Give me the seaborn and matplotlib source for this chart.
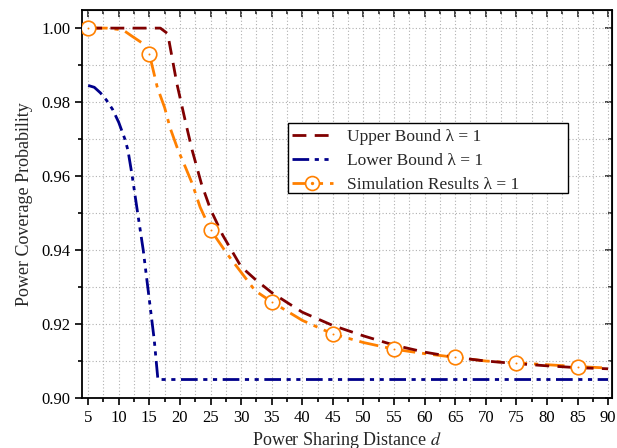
import matplotlib
matplotlib.use("Agg")
import matplotlib.pyplot as plt
from matplotlib.lines import Line2D
from matplotlib.patches import Rectangle
from matplotlib.ticker import MultipleLocator, FormatStrFormatter
import seaborn as sns

sns.set_style("ticks")
plt.rcParams['font.family'] = ['Liberation Serif', 'DejaVu Serif']
plt.rcParams['mathtext.fontset'] = 'stix'

# upper bound
upper_d = [5, 10, 15, 16.8, 18, 19.5, 21, 22, 23.5, 25, 27, 30, 32.5, 35, 40, 45,
           50, 55, 60, 65, 70, 75, 80, 85, 90]
upper_p = [1.0, 1.0, 1.0, 1.0, 0.9985, 0.985, 0.974, 0.967, 0.958, 0.951, 0.944,
           0.9355, 0.9318, 0.9285, 0.9232, 0.9196, 0.9168, 0.9143, 0.9124, 0.911,
           0.9100, 0.9093, 0.9087, 0.9082, 0.9079]

# lower bound
lower_d = [5, 6, 7, 8, 9, 10, 11, 11.5, 12.2, 13, 14, 15, 15.8, 16.4, 90]
lower_p = [0.9845, 0.984, 0.9825, 0.9805, 0.978, 0.9745, 0.970, 0.967, 0.960,
           0.951, 0.940, 0.9265, 0.9157, 0.905, 0.905]

# simulation curve
sim_d = [5, 8, 10.7, 12, 13.8, 15, 16.3, 17.5, 18.4, 19.7, 21, 22, 23.3, 25, 27.7,
         30, 32.3, 35, 40, 45, 50, 55, 60, 65, 70, 75, 80, 85, 90]
sim_p = [1.0, 1.0, 0.9995, 0.998, 0.996, 0.993, 0.984, 0.9785, 0.973, 0.967, 0.962,
         0.958, 0.9516, 0.9455, 0.939, 0.934, 0.929, 0.926, 0.921, 0.9173, 0.915,
         0.9132, 0.912, 0.911, 0.910, 0.9095, 0.909, 0.9085, 0.9081]

# simulation markers
mark_d = [5, 15, 25, 35, 45, 55, 65, 75, 85]
mark_p = [1.0, 0.993, 0.9455, 0.926, 0.9173, 0.9132, 0.911, 0.9095, 0.9085]

labels = ['Upper Bound λ = 1', 'Lower Bound λ = 1', 'Simulation Results λ = 1']

red = '#800000'
navy = '#00008B'
orange = '#FF8000'
ls_up = (0, (5, 3))
ls_lo = (0, (6, 2, 1.5, 2, 1.5, 2))
ls_sim = (0, (7, 2.5, 1.5, 2.5))

fig = plt.figure(figsize=(6.17, 4.48), dpi=100)
ax = fig.add_axes([0.133, 0.1116, 0.859, 0.8661])

ax.grid(True, which='both', color='#b0b0b0', linestyle=(0, (1, 2)), linewidth=0.8)
ax.set_axisbelow(True)

sns.lineplot(x=lower_d, y=lower_p, ax=ax, color=navy, linewidth=2,
             linestyle=ls_lo, sort=False)
sns.lineplot(x=sim_d, y=sim_p, ax=ax, color=orange, linewidth=2,
             linestyle=ls_sim, sort=False)
sns.lineplot(x=upper_d, y=upper_p, ax=ax, color=red, linewidth=2,
             linestyle=ls_up, sort=False)
sns.scatterplot(x=mark_d, y=mark_p, ax=ax, marker='o', s=110, facecolor='white',
                edgecolor=orange, linewidth=1.2, zorder=5)
sns.scatterplot(x=mark_d, y=mark_p, ax=ax, marker='o', s=2, color=orange,
                linewidth=0, zorder=6)

ax.set_xlim(4.0, 90.65)
ax.set_ylim(0.90, 1.0049)
ax.xaxis.set_major_locator(MultipleLocator(5))
ax.xaxis.set_minor_locator(MultipleLocator(2.5))
ax.yaxis.set_major_locator(MultipleLocator(0.02))
ax.yaxis.set_minor_locator(MultipleLocator(0.01))
ax.yaxis.set_major_formatter(FormatStrFormatter('%.2f'))
ax.tick_params(which='both', direction='out', labelsize=12, width=1.2, colors='black')
ax.tick_params(which='major', length=5)
ax.tick_params(which='minor', length=3)

top = ax.secondary_xaxis('top')
top.xaxis.set_major_locator(MultipleLocator(5))
top.xaxis.set_minor_locator(MultipleLocator(2.5))
top.tick_params(which='both', direction='in', labeltop=False, width=1.2)
top.tick_params(which='major', length=5)
top.tick_params(which='minor', length=3)
right = ax.secondary_yaxis('right')
right.yaxis.set_major_locator(MultipleLocator(0.02))
right.yaxis.set_minor_locator(MultipleLocator(0.01))
right.tick_params(which='both', direction='in', labelright=False, width=1.2)
right.tick_params(which='major', length=5)
right.tick_params(which='minor', length=3)

for sp in ax.spines.values():
    sp.set_linewidth(1.3)
    sp.set_color('black')

ax.set_xlabel('Power Sharing Distance $d$', fontsize=13, labelpad=3)
ax.set_ylabel('Power Coverage Probability', fontsize=13, labelpad=6)

# legend box drawn by hand, it is wider than its text in the original
ax.add_patch(Rectangle((0.3887, 0.5284), 0.5283, 0.1804, transform=ax.transAxes,
                       facecolor='white', edgecolor='black', linewidth=1.0, zorder=7))

h_up = Line2D([], [], color=red, linewidth=2, linestyle=ls_up)
h_lo = Line2D([], [], color=navy, linewidth=2, linestyle=ls_lo)
h_sim = Line2D([], [], color=orange, linewidth=2, linestyle=ls_sim,
               marker='o', markersize=10, markerfacecolor='white',
               markeredgecolor=orange, markeredgewidth=1.2)
h_dot = Line2D([], [], color=orange, linestyle='', marker='o', markersize=1.4)
leg = ax.legend([h_up, h_lo, (h_sim, h_dot)], labels,
                loc='upper left', bbox_to_anchor=(0.396, 0.694), fontsize=12.5,
                frameon=False, handlelength=2.35, handletextpad=0.85,
                borderpad=0, borderaxespad=0, labelspacing=0.45)
leg.set_zorder(8)

fig.savefig('out.png', dpi=100)
